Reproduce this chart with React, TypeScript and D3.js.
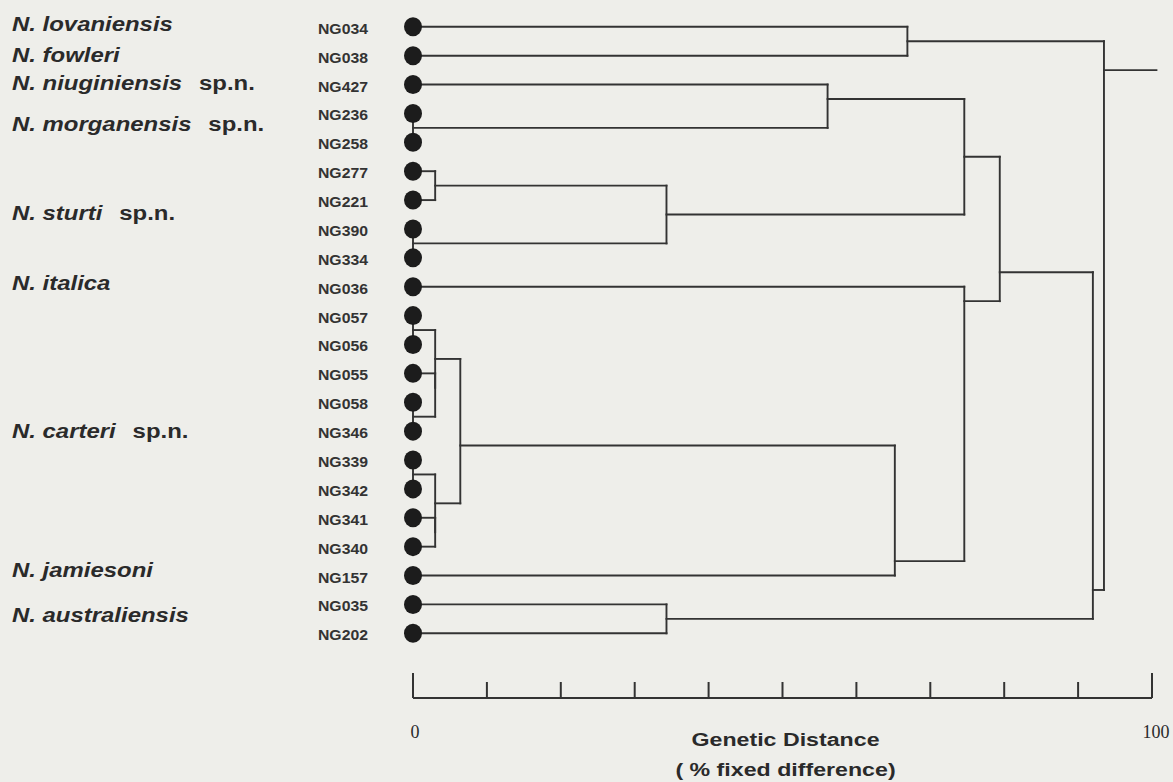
import React from "react";
import * as d3 from "d3";

// ---------- DATA ----------
const leaves = [
  "NG034", "NG038", "NG427", "NG236", "NG258", "NG277", "NG221", "NG390",
  "NG334", "NG036", "NG057", "NG056", "NG055", "NG058", "NG346", "NG339",
  "NG342", "NG341", "NG340", "NG157", "NG035", "NG202",
];

// linkage: [left child, right child, genetic distance (% fixed difference), node id]
const merges: [string, string, number, string][] = [
  ["NG236", "NG258", 0, "n1"],
  ["NG390", "NG334", 0, "n2"],
  ["NG057", "NG056", 0, "n3"],
  ["NG058", "NG346", 0, "n4"],
  ["NG339", "NG342", 0, "n5"],
  ["NG277", "NG221", 3.0, "n6"],
  ["NG055", "n4", 3.0, "n7"],
  ["n3", "n7", 3.0, "n8"],
  ["NG341", "NG340", 3.0, "n9"],
  ["n5", "n9", 3.0, "n10"],
  ["n8", "n10", 6.4, "n11"],
  ["n6", "n2", 34.3, "n12"],
  ["NG035", "NG202", 34.3, "n13"],
  ["NG427", "n1", 56.1, "n14"],
  ["n11", "NG157", 65.2, "n15"],
  ["NG034", "NG038", 66.9, "n16"],
  ["n14", "n12", 74.6, "n17"],
  ["NG036", "n15", 74.6, "n18"],
  ["n17", "n18", 79.4, "n19"],
  ["n19", "n13", 92.0, "n20"],
  ["n16", "n20", 93.5, "root"],
];
const rootStubEnd = 100.6;

const speciesNames = [
  "N. lovaniensis", "N. fowleri", "N. niuginiensis", "N. morganensis",
  "N. sturti", "N. italica", "N. carteri", "N. jamiesoni", "N. australiensis",
];
const speciesSuffix = ["", "", "sp.n.", "sp.n.", "sp.n.", "", "sp.n.", "", ""];
const speciesRow = [-0.1, 0.95, 1.95, 3.35, 6.45, 8.85, 14.0, 18.8, 20.35];

const axisTicks = d3.range(0, 101, 10);
const axisEndLabels = ["0", "100"];
const axisTitle = ["Genetic Distance", "( % fixed difference)"];

// ---------- LAYOUT ----------
const W = 1173;
const H = 782;
const x = d3.scaleLinear().domain([0, 100]).range([413, 1152]);
const y = d3.scaleLinear().domain([0, leaves.length - 1]).range([26.8, 633.3]);
const axisY = 698;

const BG = "#eeeeea";
const INK = "#333333";

type Node = { id: string; h: number; y: number; minRow: number; maxRow: number };

function buildSegments() {
  const nodes = new Map<string, Node>();
  leaves.forEach((id, i) => nodes.set(id, { id, h: 0, y: i, minRow: i, maxRow: i }));
  const segs: { x1: number; y1: number; x2: number; y2: number }[] = [];
  merges.forEach(([a, b, h, id]) => {
    const A = nodes.get(a)!;
    const B = nodes.get(b)!;
    const ny = (A.maxRow + B.minRow) / 2;
    nodes.set(id, { id, h, y: ny, minRow: Math.min(A.minRow, B.minRow), maxRow: Math.max(A.maxRow, B.maxRow) });
    [A, B].forEach((c) => {
      if (h > c.h) segs.push({ x1: x(c.h), y1: y(c.y), x2: x(h), y2: y(c.y) });
    });
    segs.push({ x1: x(h), y1: y(A.y), x2: x(h), y2: y(B.y) });
  });
  const root = nodes.get("root")!;
  segs.push({ x1: x(root.h), y1: y(root.y), x2: x(rootStubEnd), y2: y(root.y) });
  return segs;
}

export default function App() {
  const segs = buildSegments();
  const midX = (x(0) + x(100)) / 2;
  return (
    <svg
      width={W}
      height={H}
      viewBox={`0 0 ${W} ${H}`}
      style={{ position: "absolute", left: 0, top: 0, display: "block", background: BG }}
    >
      <rect x={0} y={0} width={W} height={H} fill={BG} />

      {/* species labels */}
      <g fontFamily="'Liberation Sans', Arial, sans-serif" fontWeight="bold" fill="#2a2a2a">
        {speciesNames.map((name, i) => (
          <g key={name} transform={`translate(12, ${y(speciesRow[i])}) scale(1.14, 1)`}>
            <text x={0} y={0} dy="0.35em" fontSize={21}>
              <tspan fontStyle="italic">{name}</tspan>
              {speciesSuffix[i] && <tspan dx={9}>{" " + speciesSuffix[i]}</tspan>}
            </text>
          </g>
        ))}
      </g>

      {/* leaf labels */}
      <g fontFamily="'Liberation Sans', Arial, sans-serif" fontWeight="bold" fill="#333">
        {leaves.map((id, i) => (
          <g key={id} transform={`translate(368, ${y(i) + 7}) scale(1.09, 1)`}>
            <text x={0} y={0} fontSize={14.5} textAnchor="end">
              {id}
            </text>
          </g>
        ))}
      </g>

      {/* tree */}
      <g stroke={INK} strokeWidth={1.9} fill="none" strokeLinecap="square">
        {segs.map((s, i) => (
          <line key={i} x1={s.x1} y1={s.y1} x2={s.x2} y2={s.y2} />
        ))}
      </g>

      {/* leaf dots */}
      <g fill="#1c1c1c">
        {leaves.map((id, i) => (
          <ellipse key={id} cx={x(0)} cy={y(i)} rx={9} ry={9.5} />
        ))}
      </g>

      {/* axis */}
      <g stroke={INK} strokeWidth={2} fill="none">
        <line x1={x(0)} x2={x(100)} y1={axisY} y2={axisY} />
        {axisTicks.map((t) => {
          const end = t === 0 || t === 100;
          return <line key={t} x1={x(t)} x2={x(t)} y1={axisY} y2={axisY - (end ? 25 : 16)} />;
        })}
      </g>
      <g fontFamily="'Liberation Serif', 'Times New Roman', serif" fontSize={18} fill="#2a2a2a">
        <text x={x(0) + 2} y={738} textAnchor="middle">{axisEndLabels[0]}</text>
        <text x={x(100) + 4} y={738} textAnchor="middle">{axisEndLabels[1]}</text>
      </g>
      <g fontFamily="'Liberation Sans', Arial, sans-serif" fontWeight="bold" fill="#2a2a2a">
        <g transform={`translate(${midX + 3}, 746) scale(1.22, 1)`}>
          <text x={0} y={0} fontSize={19} textAnchor="middle">{axisTitle[0]}</text>
        </g>
        <g transform={`translate(${midX + 3}, 776) scale(1.22, 1)`}>
          <text x={0} y={0} fontSize={19} textAnchor="middle">{axisTitle[1]}</text>
        </g>
      </g>
    </svg>
  );
}
